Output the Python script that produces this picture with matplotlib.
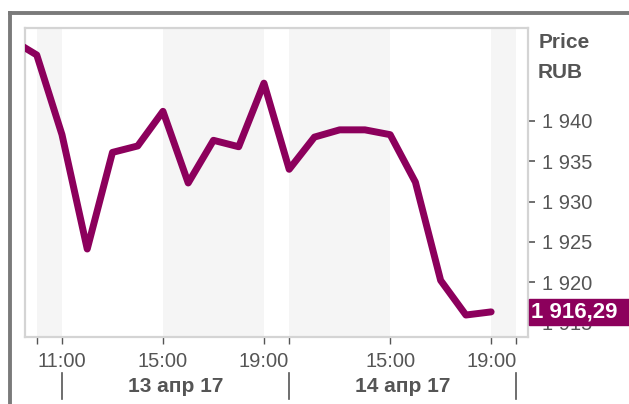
import numpy as np
import matplotlib.pyplot as plt
from matplotlib.patches import Rectangle
from matplotlib.lines import Line2D
import matplotlib.transforms as mtransforms

# hours from 11:00 on 13 Apr (trading session axis, gaps removed)
hours = [-2, -1, 0, 1, 2, 3, 4, 5, 6, 7, 8, 9, 10, 11, 12, 13, 14, 15, 16, 17]
price = [1950.1, 1948.2, 1938.3, 1924.1, 1936.1, 1936.9, 1941.2, 1932.3,
         1937.6, 1936.8, 1944.7, 1934.0, 1938.0, 1938.9, 1938.9, 1938.3,
         1932.4, 1920.2, 1915.9, 1916.29]
last_price = 1916.29

tick_pos = [-1, 0, 4, 8, 9, 13, 17, 18]
tick_lab = ["", "11:00", "15:00", "19:00", "", "15:00", "19:00", ""]
day_bounds = [0, 9, 18]
day_labels = ["13 апр 17", "14 апр 17"]
bands = [(-1, 0), (4, 8), (9, 13), (17, 18)]
ytick_vals = [1915, 1920, 1925, 1930, 1935, 1940]

purple = "#8c005c"
grey_txt = "#555555"

plt.rcParams['font.family'] = ['Liberation Sans', 'DejaVu Sans']

fig = plt.figure(figsize=(6.29, 4.04), dpi=100)
ax = fig.add_axes([25/629, 1-337/404, 503/629, 309/404])

for a, b in bands:
    ax.axvspan(a, b, color="#f5f5f5", lw=0, zorder=0)

ax.plot(hours, price, color=purple, lw=5, solid_joinstyle="round",
        solid_capstyle="round", zorder=3)

ax.set_xlim(-1.465, 18.46)
ax.set_ylim(1913.17, 1951.55)

ax.set_xticks(tick_pos)
ax.set_xticklabels(tick_lab)
ax.yaxis.tick_right()
ax.set_yticks(ytick_vals)
ax.set_yticklabels([f"{v:,}".replace(",", " ") for v in ytick_vals])
ax.tick_params(axis="x", length=5, width=1, color=grey_txt, labelcolor=grey_txt,
               labelsize=14.5, pad=6)
ax.tick_params(axis="y", length=5, width=1.2, color=grey_txt, labelcolor=grey_txt,
               labelsize=14.5, pad=5)
for lab in ax.get_yticklabels():
    lab.set_horizontalalignment("left")

for s in ax.spines.values():
    s.set_color("#d4d4d4")
    s.set_linewidth(1.6)

# day separators and day labels below the time ticks
trans = mtransforms.blended_transform_factory(ax.transData, fig.transFigure)
for d in day_bounds:
    fig.add_artist(Line2D([d, d], [1-373/404, 1-399/404], transform=trans,
                          color=grey_txt, lw=1.2))
for i, lab in enumerate(day_labels):
    mid = (day_bounds[i] + day_bounds[i+1]) / 2
    fig.text(mid, 1-387/404, lab, transform=trans, ha="center", va="center",
             fontsize=15, fontweight="bold", color=grey_txt)

# axis title
fig.text(539/629, 1-43/404, "Price", ha="left", va="center", fontsize=15,
         fontweight="bold", color=grey_txt)
fig.text(538/629, 1-72/404, "RUB", ha="left", va="center", fontsize=15,
         fontweight="bold", color=grey_txt)

# last price marker
ytr = mtransforms.blended_transform_factory(fig.transFigure, ax.transData)
fig.add_artist(Rectangle((529/629, last_price - 1.65), 100/629, 3.3,
                         transform=ytr, color=purple, zorder=5))
fig.text(531/629, last_price, "1 916,29", transform=ytr, ha="left", va="center",
         fontsize=16, fontweight="bold", color="white", zorder=6)

# outer frame (top and left edges)
fig.add_artist(Line2D([10/629, 1], [1-13/404, 1-13/404], color="#7a7a7a", lw=2.8))
fig.add_artist(Line2D([10/629, 10/629], [0, 1-13/404], color="#7a7a7a", lw=2.8))

fig.savefig("out.png", dpi=100)
